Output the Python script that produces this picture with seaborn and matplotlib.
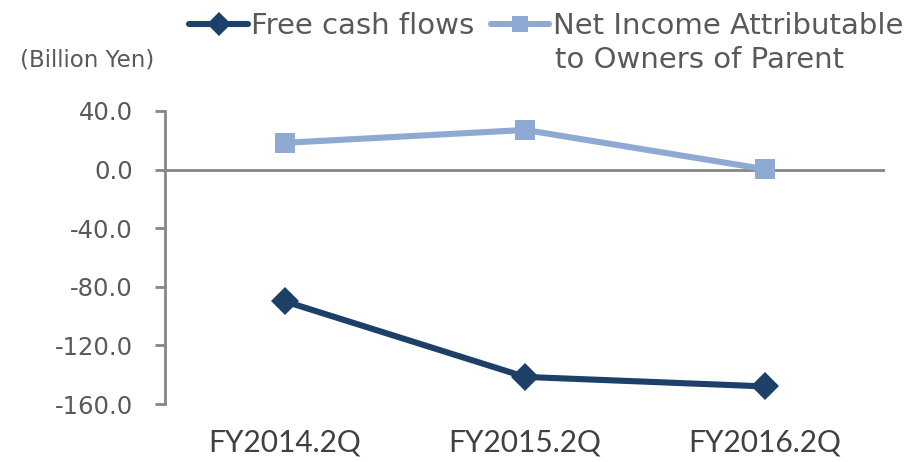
import numpy as np
import pandas as pd
import matplotlib
matplotlib.use("Agg")
import matplotlib.pyplot as plt
import seaborn as sns

# values (Billion Yen)
periods = ["FY2014.2Q", "FY2015.2Q", "FY2016.2Q"]
free_cash_flows = [-90.0, -141.5, -148.0]
net_income = [18.2, 27.0, 0.2]
series_names = ["Free cash flows", "Net Income Attributable", "to Owners of Parent"]
y_ticks = [40, 0, -40, -80, -120, -160]

sns.set_style("white")
plt.rcParams["font.family"] = ["DejaVu Sans"]

df = pd.DataFrame({
    "period": periods * 2,
    "value": free_cash_flows + net_income,
    "series": [series_names[0]] * 3 + [series_names[1]] * 3,
})
df["x"] = df["period"].map({p: i for i, p in enumerate(periods)})

navy = "#1d4068"
light = "#8eaad3"
grey = "#868686"
text_c = "#595959"

fig = plt.figure(figsize=(9.22, 4.62), dpi=100)
ax = fig.add_axes([0.179, 0.1255, 0.781, 0.6345])

sns.lineplot(data=df, x="x", y="value", hue="series", style="series",
             palette=[navy, light], markers=["D", "s"], dashes=False,
             markersize=14.5, linewidth=4.4, markeredgewidth=0, ax=ax,
             legend=False, zorder=3)

ax.axhline(0, color=grey, linewidth=2, zorder=1)
ax.set_xlim(-0.5, 2.5)
ax.set_ylim(-160, 40)
ax.set_yticks(y_ticks)
ax.set_yticklabels([f"{v:.1f}" for v in y_ticks], fontsize=17.5, color=text_c)
ax.set_xticks(range(len(periods)))
ax.set_xticklabels(periods, fontsize=21.5, color="#404040",
                   family=["Lato", "DejaVu Sans"])
ax.set_xlabel("")
ax.set_ylabel("")
for s in ["top", "right", "bottom"]:
    ax.spines[s].set_visible(False)
ax.spines["left"].set_color(grey)
ax.spines["left"].set_linewidth(2)
ax.tick_params(axis="y", which="both", left=True, length=7, width=2,
               color=grey, pad=16)
ax.tick_params(axis="x", bottom=False, pad=14)

fig.text(0.022, 0.87, "(Billion Yen)", fontsize=16.5, color=text_c,
         va="center", ha="left")

# legend, one entry per box; second label's second line set below it
h1 = plt.Line2D([], [], color=navy, lw=4.4, marker="D", markersize=12,
                markeredgewidth=0)
h2 = plt.Line2D([], [], color=light, lw=4.4, marker="s", markersize=12,
                markeredgewidth=0)
fig.legend([h1], [series_names[0]], loc="upper left",
           bbox_to_anchor=(0.177, 1.03), frameon=False, fontsize=21,
           handlelength=2.0, handletextpad=0.12, labelcolor=text_c)
fig.legend([h2], [series_names[1]], loc="upper left",
           bbox_to_anchor=(0.504, 1.03), frameon=False, fontsize=21,
           handlelength=2.0, handletextpad=0.12, labelcolor=text_c)
fig.text(0.602, 0.87, series_names[2], fontsize=21, color=text_c,
         va="center", ha="left")

fig.savefig("out.png", dpi=100)
